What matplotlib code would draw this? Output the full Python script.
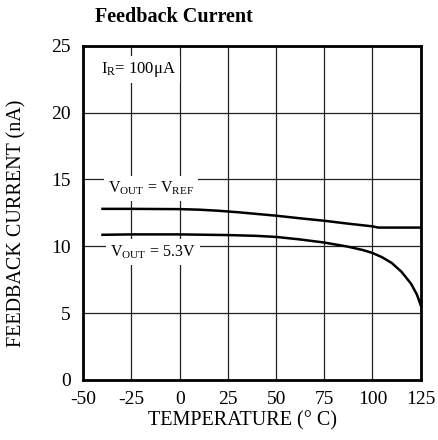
import matplotlib
matplotlib.use("Agg")
import matplotlib.pyplot as plt

plt.rcParams['font.family'] = ['Liberation Serif', 'DejaVu Serif']
plt.rcParams['mathtext.fontset'] = 'custom'
plt.rcParams['mathtext.rm'] = 'Liberation Serif'
plt.rcParams['mathtext.it'] = 'Liberation Serif:italic'
plt.rcParams['axes.unicode_minus'] = False

temp_ref = [-40, -25, 0, 10, 20, 30, 40, 50, 62, 75, 87, 100, 103, 125]
cur_ref = [12.8, 12.8, 12.78, 12.74, 12.66, 12.55, 12.42, 12.29, 12.1, 11.91, 11.7, 11.49, 11.4, 11.4]

temp_53 = [-40, -25, 0, 25, 40, 50, 62, 75, 87, 95, 100, 105, 110, 115, 120, 123, 125]
cur_53 = [10.86, 10.89, 10.89, 10.84, 10.78, 10.70, 10.52, 10.28, 9.98, 9.72, 9.5, 9.18, 8.75, 8.1, 7.2, 6.4, 5.6]

xticks = [-50, -25, 0, 25, 50, 75, 100, 125]
yticks = [0, 5, 10, 15, 20, 25]

fig = plt.figure(figsize=(4.38, 4.40), dpi=100)
ax = fig.add_axes([0.19, 0.1364, 0.7705, 0.7596])

ax.set_xlim(-50, 125)
ax.set_ylim(0, 25)
ax.set_xticks(xticks)
ax.set_yticks(yticks)
ax.set_xticklabels([str(t) for t in xticks], fontsize=14)
ax.set_yticklabels([str(t) for t in yticks], fontsize=14)
ax.tick_params(axis='x', length=0, pad=8)
ax.tick_params(axis='y', length=0, pad=9)
ax.grid(True, color='#222222', linewidth=0.9)
ax.set_axisbelow(True)
for s in ax.spines.values():
    s.set_linewidth(2)
    s.set_zorder(5)

ax.plot(temp_ref, cur_ref, color='black', linewidth=1.8, zorder=3)
ax.plot(temp_53, cur_53, color='black', linewidth=1.8, zorder=3)

ax.set_xlabel('TEMPERATURE (° C)', fontsize=14.5)
ax.xaxis.set_label_coords(0.473, -0.093)
ax.set_ylabel('FEEDBACK CURRENT (nA)', fontsize=14.5)
ax.yaxis.set_label_coords(-0.168, 0.47)
fig.text(0.217, 0.961, 'Feedback Current', fontsize=14.5, fontweight='bold', va='center')

bbox = dict(facecolor='white', edgecolor='none', pad=3)
ax.text(-41, 23.2, r'I$_\mathrm{R}$= 100μA', fontsize=12, va='center', ha='left', bbox=bbox, zorder=4)
ax.text(-37, 14.33, r'V$_\mathrm{OUT}$ = V$_\mathrm{REF}$', fontsize=11.5, va='center', ha='left', bbox=bbox, zorder=4)
ax.text(-36, 9.55, r'V$_\mathrm{OUT}$ = 5.3V', fontsize=11.5, va='center', ha='left', bbox=bbox, zorder=4)

fig.savefig('out.png', dpi=100)
